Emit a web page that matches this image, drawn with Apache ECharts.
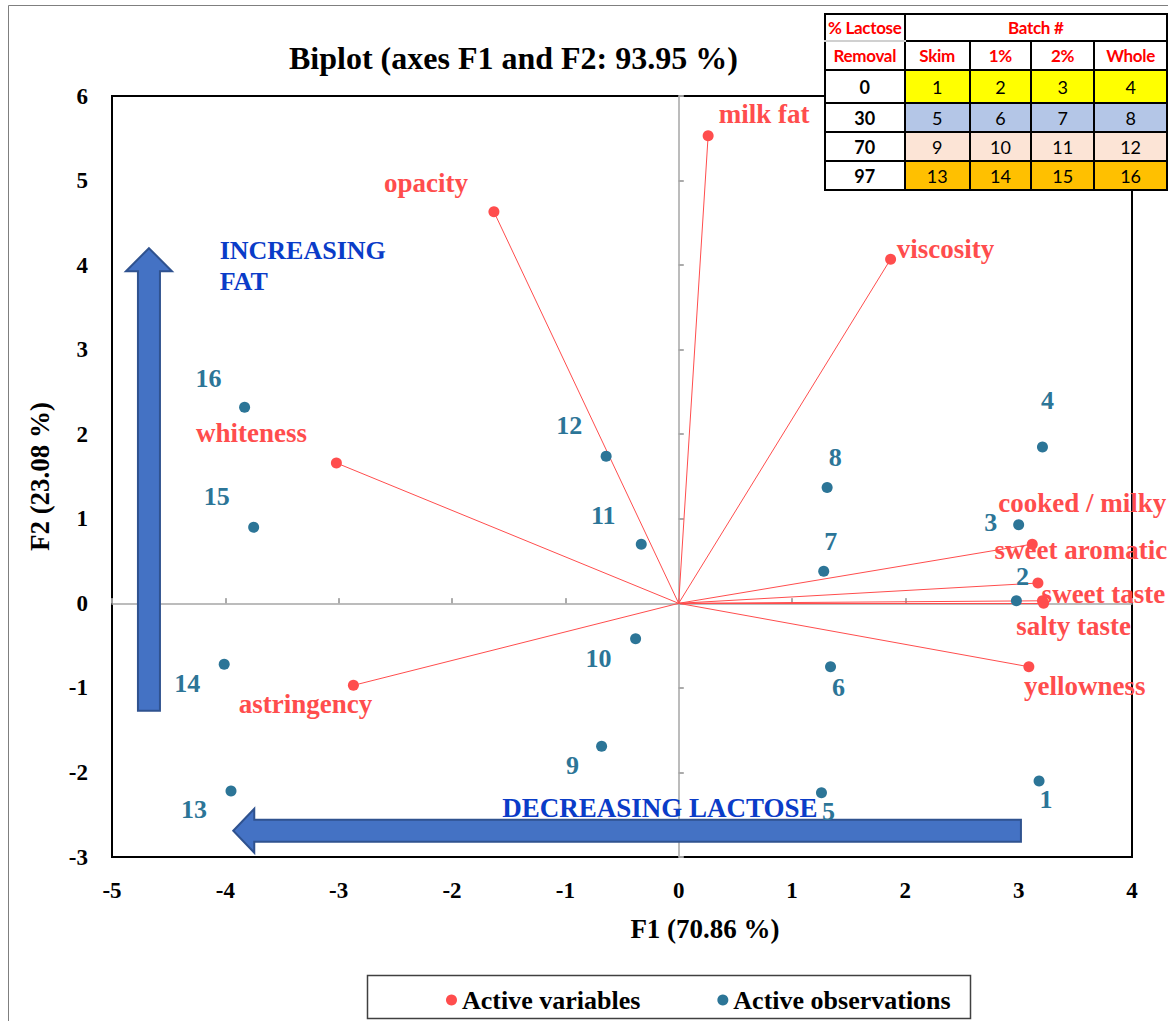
<!DOCTYPE html>
<html>
<head>
<meta charset="utf-8">
<script src="https://cdn.jsdelivr.net/npm/echarts@6/dist/echarts.min.js"></script>
<style>
html,body{margin:0;padding:0;overflow:hidden;background:#fff;}
#chart{position:absolute;left:0;top:0;width:1168px;height:1021px;}
#tbl{position:absolute;left:824px;top:13px;}
#tbl table{border-collapse:collapse;font-family:Lato,"Open Sans",sans-serif;font-size:18px;table-layout:fixed;background:#fff;}
#tbl td{border:2px solid #000;text-align:center;padding:0;color:#000;white-space:nowrap;}
#tbl .h{color:#ff0000;font-weight:bold;font-size:17px;letter-spacing:-0.3px;}
#tbl .r{font-weight:bold;}
</style>
</head>
<body>
<div id="chart"></div>
<div id="tbl"></div>
<script>
// ---- data ----
const varNames = ['milk fat','opacity','viscosity','whiteness','cooked / milky','sweet aromatic','sweet taste','salty taste','yellowness','astringency'];
const varF1 = [0.26,-1.63,1.87,-3.02,3.12,3.17,3.21,3.22,3.09,-2.87];
const varF2 = [5.53,4.63,4.07,1.66,0.70,0.24,0.03,0.00,-0.75,-0.97];

const obsNames = ['1','2','3','4','5','6','7','8','9','10','11','12','13','14','15','16'];
const obsF1 = [3.18,2.98,3.00,3.21,1.26,1.34,1.28,1.31,-0.68,-0.38,-0.33,-0.64,-3.95,-4.01,-3.75,-3.83];
const obsF2 = [-2.10,0.03,0.93,1.85,-2.24,-0.75,0.38,1.37,-1.69,-0.42,0.70,1.74,-2.22,-0.72,0.90,2.32];

const xTickMin = -5, xTickMax = 4, yTickMin = -3, yTickMax = 6;

const tableRowLabels = ['0','30','70','97'];
const tableColLabels = ['Skim','1%','2%','Whole'];
const tableBatches = [[1,2,3,4],[5,6,7,8],[9,10,11,12],[13,14,15,16]];

// ---- layout (label offsets in px) ----
const varLabelOffset = [[56,-22],[-68,-29],[55,-10],[-85,-30],[50,-41],[43,-33],[61,-7],[30,23],[56,19],[-48,19]];
const obsLabelOffset = [[7,19],[6,-24],[-28,-2],[5,-46],[7,19],[8,21],[7,-30],[8,-30],[-29,19],[-37,20],[-38,-29],[-37,-31],[-37,18],[-37,19],[-37,-31],[-36,-29]];
const rowColors = ['#ffff00','#b4c6e7','#fce4d6','#ffc000'];

const RED = '#ff4d4d', TEAL = '#2c7597', BLUE_TXT = '#0a3cc8';
const SERIF = 'Liberation Serif, Times New Roman, serif';

// ---- table ----
(function(){
  let h = '<table>';
  h += '<colgroup><col style="width:80px"><col style="width:68px"><col style="width:65px"><col style="width:67px"><col style="width:75px"></colgroup>';
  h += '<tr style="height:27px"><td class="h" style="border-bottom:2px solid #d0d0d0">% Lactose</td><td class="h" colspan="4">Batch #</td></tr>';
  h += '<tr style="height:29px"><td class="h" style="border-top:2px solid #d0d0d0">Removal</td>' + tableColLabels.map(c=>'<td class="h">'+c+'</td>').join('') + '</tr>';
  tableRowLabels.forEach((r,i)=>{
    h += '<tr style="height:' + (i===0?33:29) + 'px"><td class="r">'+r+'</td>' + tableBatches[i].map(v=>'<td style="background:'+rowColors[i]+'">'+v+'</td>').join('') + '</tr>';
  });
  h += '</table>';
  document.getElementById('tbl').innerHTML = h;
})();

// ---- chart ----
const chart = echarts.init(document.getElementById('chart'), null, {renderer:'svg'});

const varData = varNames.map((n,i)=>({name:n, value:[varF1[i],varF2[i]], label:{offset:varLabelOffset[i]}}));
const obsData = obsNames.map((n,i)=>({name:n, value:[obsF1[i],obsF2[i]], label:{offset:obsLabelOffset[i]}}));
const lineData = varNames.map((n,i)=>({coords:[[0,0],[varF1[i],varF2[i]]]}));

const zeroLine = {color:'#a6a6a6', width:1.5};
const tickLbl = {fontFamily:SERIF, fontWeight:'bold', fontSize:23, color:'#000'};

chart.setOption({
  animation:false,
  title:{text:'Biplot (axes F1 and F2: 93.95 %)', left:284, top:37,
    textStyle:{fontFamily:SERIF, fontWeight:'bold', fontSize:32, color:'#000'}},
  grid:{left:112, right:36, top:96, bottom:164, show:true, borderColor:'#000', borderWidth:2, backgroundColor:'transparent'},
  legend:{data:['Active variables','Active observations'], left:441, top:982, itemGap:77,
    icon:'circle', itemWidth:11, itemHeight:11,
    textStyle:{fontFamily:SERIF, fontWeight:'bold', fontSize:26, color:'#000'}},
  xAxis:[
    {type:'value', min:xTickMin, max:xTickMax, interval:1, position:'bottom',
      axisLine:{show:false, onZero:false}, axisTick:{show:false}, splitLine:{show:false},
      axisLabel:{...tickLbl, margin:22},
      name:'F1 (70.86 %)', nameLocation:'middle', nameGap:58,
      nameTextStyle:{fontFamily:SERIF, fontWeight:'bold', fontSize:27, color:'#000', padding:[0,0,0,166]}},
    {type:'value', min:xTickMin, max:xTickMax, interval:1, position:'top',
      axisLine:{show:true, onZero:true, onZeroAxisIndex:0, lineStyle:zeroLine},
      axisTick:{show:true, length:5, inside:false, lineStyle:zeroLine}, axisLabel:{show:false}, splitLine:{show:false}},
    {type:'value', min:xTickMin, max:xTickMax, interval:1, position:'bottom',
      axisLine:{show:false, onZero:true, onZeroAxisIndex:0},
      axisTick:{show:true, length:5, inside:true, lineStyle:zeroLine}, axisLabel:{show:false}, splitLine:{show:false}}
  ],
  yAxis:[
    {type:'value', min:yTickMin, max:yTickMax, interval:1, position:'left',
      axisLine:{show:false, onZero:false}, axisTick:{show:false}, splitLine:{show:false},
      axisLabel:{...tickLbl, margin:24},
      name:'F2 (23.08 %)', nameLocation:'middle', nameGap:59,
      nameTextStyle:{fontFamily:SERIF, fontWeight:'bold', fontSize:27, color:'#000'}},
    {type:'value', min:yTickMin, max:yTickMax, interval:1, position:'right',
      axisLine:{show:true, onZero:true, onZeroAxisIndex:0, lineStyle:zeroLine},
      axisTick:{show:true, length:5, inside:false, lineStyle:zeroLine}, axisLabel:{show:false}, splitLine:{show:false}},
    {type:'value', min:yTickMin, max:yTickMax, interval:1, position:'left',
      axisLine:{show:false, onZero:true, onZeroAxisIndex:0},
      axisTick:{show:true, length:5, inside:true, lineStyle:zeroLine}, axisLabel:{show:false}, splitLine:{show:false}}
  ],
  series:[
    {type:'lines', coordinateSystem:'cartesian2d', xAxisIndex:0, yAxisIndex:0, silent:true, z:2,
      lineStyle:{color:RED, width:1, opacity:1}, data:lineData},
    {name:'Active variables', type:'scatter', xAxisIndex:0, yAxisIndex:0, symbolSize:11, z:4,
      itemStyle:{color:RED, opacity:1},
      label:{show:true, position:'inside', formatter:'{b}', fontFamily:SERIF, fontWeight:'bold', fontSize:27, color:RED},
      data:varData},
    {name:'Active observations', type:'scatter', xAxisIndex:0, yAxisIndex:0, symbolSize:11, z:5,
      itemStyle:{color:TEAL, opacity:1},
      label:{show:true, position:'inside', formatter:'{b}', fontFamily:SERIF, fontWeight:'bold', fontSize:26, color:TEAL},
      data:obsData}
  ]
});

// ---- annotations (arrows & texts), placed in data coordinates ----
const annUp = {x:-4.674, yTip:4.20, yBase:-1.27};
const annLeft = {y:-2.69, xTip:-3.93, xTail:3.02};
const annTextFat = [-4.05, 3.995];
const annTextLac = [-0.165, -2.42];

function px(p){ return chart.convertToPixel({gridIndex:0}, p); }
const up = px([annUp.x, annUp.yTip]), upB = px([annUp.x, annUp.yBase]);
const lt = px([annLeft.xTip, annLeft.y]), ltT = px([annLeft.xTail, annLeft.y]);
const cx = up[0], ty = up[1], by = upB[1];
const upPts = [[cx,ty],[cx+23,ty+23],[cx+11,ty+23],[cx+11,by],[cx-11,by],[cx-11,ty+23],[cx-23,ty+23]];
const lx = lt[0], cy = lt[1], rx = ltT[0];
const ltPts = [[lx,cy],[lx+21,cy-22],[lx+21,cy-11],[rx,cy-11],[rx,cy+11],[lx+21,cy+11],[lx+21,cy+22]];
const tf = px(annTextFat), tl = px(annTextLac);

chart.setOption({
  graphic:[
    {type:'rect', shape:{x:8.5, y:5.5, width:1300, height:1100}, style:{fill:'none', stroke:'#7f7f7f', lineWidth:1}, z:-10, silent:true},
    {type:'rect', shape:{x:367.5, y:975.5, width:603, height:43}, style:{fill:'none', stroke:'#404040', lineWidth:1.5}, silent:true},
    {type:'polygon', shape:{points:upPts}, style:{fill:'#4472c4', stroke:'#2f528f', lineWidth:2}, z:3, silent:true},
    {type:'polygon', shape:{points:ltPts}, style:{fill:'#4472c4', stroke:'#2f528f', lineWidth:2}, z:3, silent:true},
    {type:'text', x:tf[0], y:tf[1], style:{text:'INCREASING\nFAT', fill:BLUE_TXT, font:'bold 26px Liberation Serif, serif', lineHeight:31, textAlign:'left', textVerticalAlign:'middle'}, z:6, silent:true},
    {type:'text', x:tl[0], y:tl[1], style:{text:'DECREASING LACTOSE', fill:BLUE_TXT, font:'bold 27px Liberation Serif, serif', textAlign:'center', textVerticalAlign:'middle'}, z:6, silent:true}
  ]
});
</script>
</body>
</html>
